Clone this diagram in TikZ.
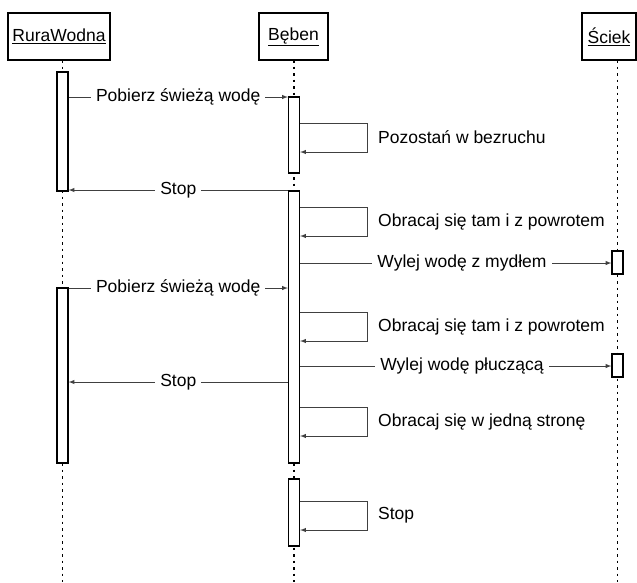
\documentclass[tikz,border=0pt]{standalone}
\usepackage{fontspec}
\setmainfont{Liberation Sans}
\usetikzlibrary{positioning}
\newcommand{\actbar}[4]{
	% name, x, top, bottom
	\node[act, minimum height={#4-#3}] (#1) at (#2,{(#3+#4)/2}) {};
}
\newcommand{\selfmsg}[4]{
	% bar, y, label name, text
	\draw[msg] (#1.east |- 0,#2) -- ++(67,0) -- ++(0,29) -- (#1.east |- 0,{#2+29});
	\node[anchor=west, inner sep=0pt] (#3) at (378,{#2+14.5}) {#4};
}
\begin{document}
\begin{tikzpicture}[x=1pt, y=-1pt,
	font=\fontsize{17.5}{20}\selectfont,
	head/.style={draw, line width=1.5pt, minimum height=47pt, inner sep=0pt},
	act/.style={draw, fill=white, line width=1.3pt, minimum width=11pt, inner sep=0pt},
	life/.style={dash pattern=on 2.5pt off 4pt, line width=1.6pt},
	msg/.style={draw=black!75, line width=1pt, -latex},
	lbl/.style={fill=white, inner sep=5pt}]
\useasboundingbox (0,0) rectangle (637,582);
% heads
\node[head, minimum width=102pt] (rura) at (59,36.5) {\underline{RuraWodna}};
\node[head, minimum width=69pt] (beben) at (293.5,36.5) {\underline{Bęben}};
\node[head, minimum width=54pt] (sciek) at (609,36.5) {\underline{Ściek}};
% lifelines
\draw[life] (62.5,60) -- (62.5,582);
\draw[life] (294,60) -- (294,582);
\draw[life] (617.5,60) -- (617.5,582);
% activations
\actbar{r1}{62.5}{72}{191}
\actbar{r2}{62.5}{288}{463}
\actbar{b1}{294}{97}{173}
\actbar{b2}{294}{191}{463}
\actbar{b3}{294}{479}{546}
\actbar{s1}{617.5}{251}{274}
\actbar{s2}{617.5}{354}{377}
% messages
\draw[msg] (r1.east |- 0,97) -- (b1.west |- 0,97) node[lbl, midway] (m1) {Pobierz świeżą wodę};
\selfmsg{b1}{123}{m2}{Pozostań w bezruchu}
\draw[msg] (b2.west |- 0,190) -- (r1.east |- 0,190) node[lbl, midway] (m3) {Stop};
\selfmsg{b2}{207}{m4}{Obracaj się tam i z powrotem}
\draw[msg] (b2.east |- 0,263) -- (s1.west |- 0,263) node[lbl, pos=0.52] (m5) {Wylej wodę z mydłem};
\draw[msg] (r2.east |- 0,288) -- (b2.west |- 0,288) node[lbl, midway] (m6) {Pobierz świeżą wodę};
\selfmsg{b2}{312}{m7}{Obracaj się tam i z powrotem}
\draw[msg] (b2.east |- 0,366) -- (s2.west |- 0,366) node[lbl, pos=0.52] (m8) {Wylej wodę płuczącą};
\draw[msg] (b2.west |- 0,382) -- (r2.east |- 0,382) node[lbl, midway] (m9) {Stop};
\selfmsg{b2}{407}{m10}{Obracaj się w jedną stronę}
\selfmsg{b3}{501}{m11}{Stop}
\end{tikzpicture}
\end{document}
